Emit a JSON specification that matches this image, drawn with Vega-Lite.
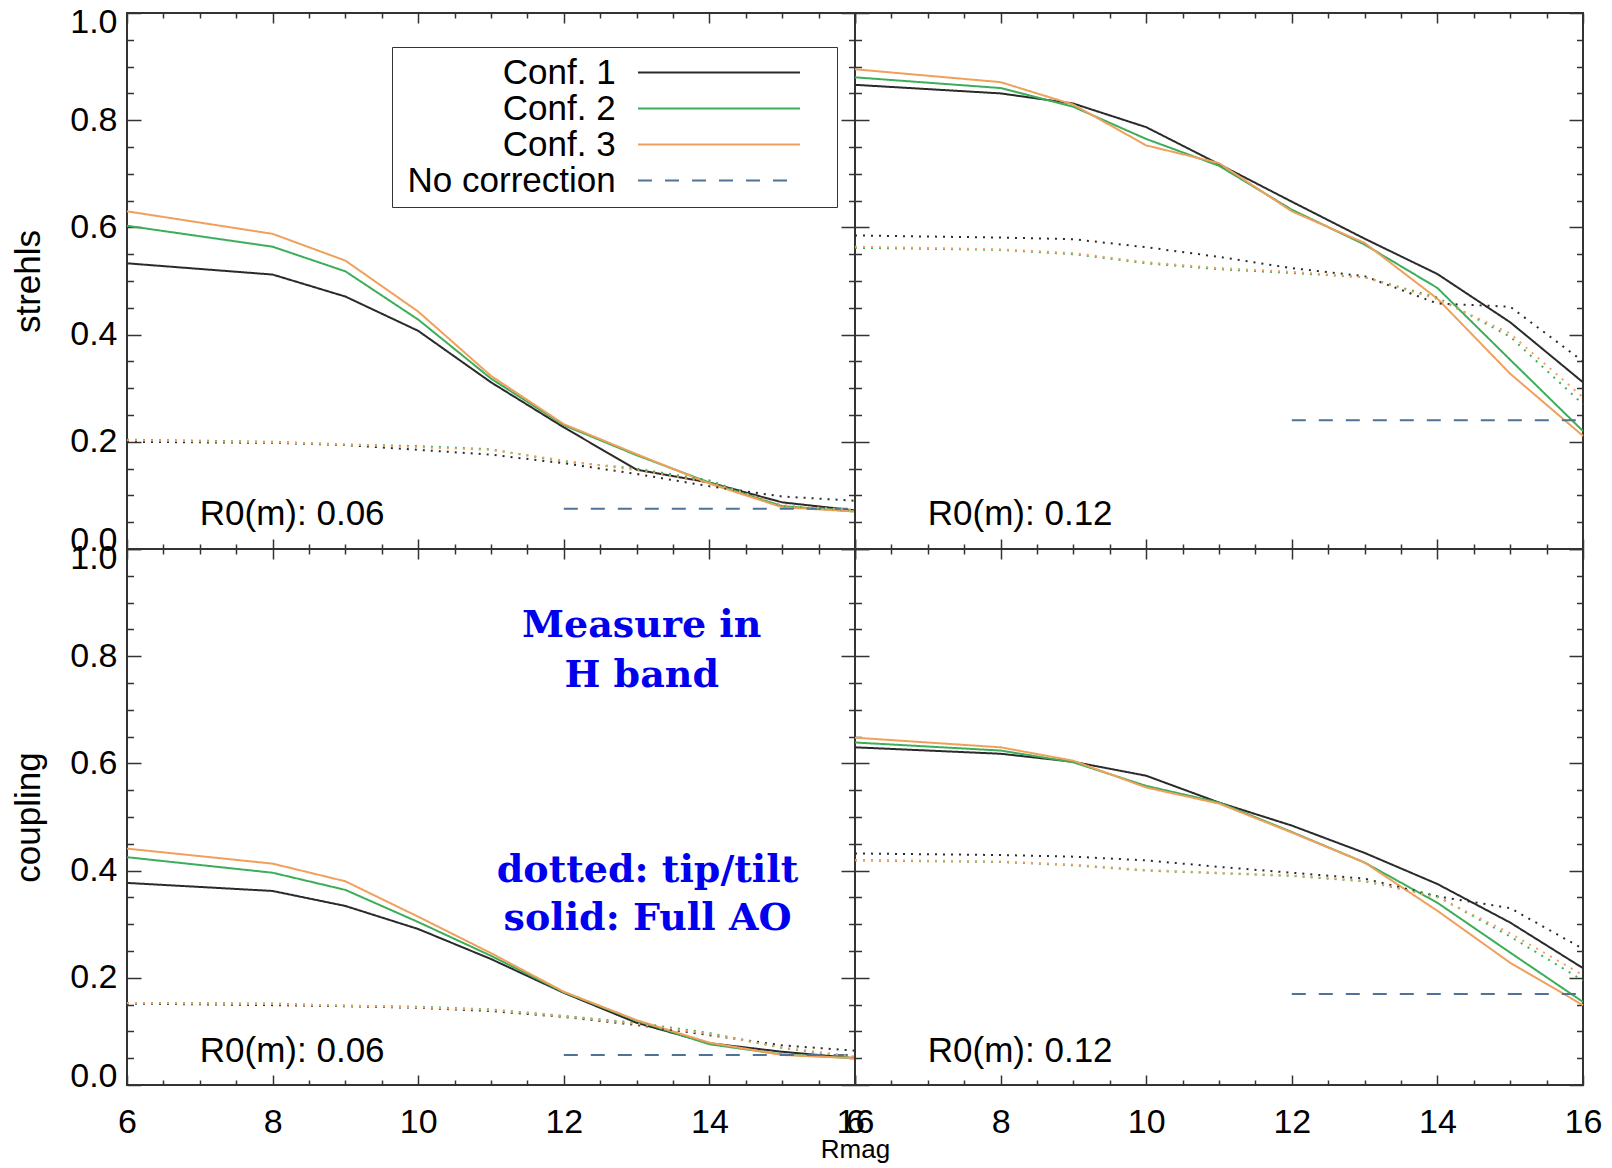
{
"$schema": "https://vega.github.io/schema/vega-lite/v6.json",
"padding": {"left": 10, "top": 4, "right": 0, "bottom": 0},
"background": "#ffffff",
"datasets": {
"strehls_006": [
{"series":"Conf. 1","kind":"Full AO","rmag":6,"val":0.533},{"series":"Conf. 1","kind":"Full AO","rmag":8,"val":0.512},{"series":"Conf. 1","kind":"Full AO","rmag":9,"val":0.471},{"series":"Conf. 1","kind":"Full AO","rmag":10,"val":0.407},{"series":"Conf. 1","kind":"Full AO","rmag":11,"val":0.311},{"series":"Conf. 1","kind":"Full AO","rmag":12,"val":0.227},{"series":"Conf. 1","kind":"Full AO","rmag":13,"val":0.148},{"series":"Conf. 1","kind":"Full AO","rmag":14,"val":0.124},{"series":"Conf. 1","kind":"Full AO","rmag":15,"val":0.087},{"series":"Conf. 1","kind":"Full AO","rmag":16,"val":0.072},
{"series":"Conf. 2","kind":"Full AO","rmag":6,"val":0.603},{"series":"Conf. 2","kind":"Full AO","rmag":8,"val":0.564},{"series":"Conf. 2","kind":"Full AO","rmag":9,"val":0.518},{"series":"Conf. 2","kind":"Full AO","rmag":10,"val":0.428},{"series":"Conf. 2","kind":"Full AO","rmag":11,"val":0.318},{"series":"Conf. 2","kind":"Full AO","rmag":12,"val":0.231},{"series":"Conf. 2","kind":"Full AO","rmag":13,"val":0.175},{"series":"Conf. 2","kind":"Full AO","rmag":14,"val":0.124},{"series":"Conf. 2","kind":"Full AO","rmag":15,"val":0.080},{"series":"Conf. 2","kind":"Full AO","rmag":16,"val":0.070},
{"series":"Conf. 3","kind":"Full AO","rmag":6,"val":0.630},{"series":"Conf. 3","kind":"Full AO","rmag":8,"val":0.588},{"series":"Conf. 3","kind":"Full AO","rmag":9,"val":0.538},{"series":"Conf. 3","kind":"Full AO","rmag":10,"val":0.443},{"series":"Conf. 3","kind":"Full AO","rmag":11,"val":0.323},{"series":"Conf. 3","kind":"Full AO","rmag":12,"val":0.233},{"series":"Conf. 3","kind":"Full AO","rmag":13,"val":0.177},{"series":"Conf. 3","kind":"Full AO","rmag":14,"val":0.122},{"series":"Conf. 3","kind":"Full AO","rmag":15,"val":0.078},{"series":"Conf. 3","kind":"Full AO","rmag":16,"val":0.070},
{"series":"Conf. 1","kind":"tip/tilt","rmag":6,"val":0.200},{"series":"Conf. 1","kind":"tip/tilt","rmag":8,"val":0.198},{"series":"Conf. 1","kind":"tip/tilt","rmag":9,"val":0.194},{"series":"Conf. 1","kind":"tip/tilt","rmag":10,"val":0.185},{"series":"Conf. 1","kind":"tip/tilt","rmag":11,"val":0.176},{"series":"Conf. 1","kind":"tip/tilt","rmag":12,"val":0.160},{"series":"Conf. 1","kind":"tip/tilt","rmag":13,"val":0.140},{"series":"Conf. 1","kind":"tip/tilt","rmag":14,"val":0.117},{"series":"Conf. 1","kind":"tip/tilt","rmag":15,"val":0.098},{"series":"Conf. 1","kind":"tip/tilt","rmag":16,"val":0.090},
{"series":"Conf. 2","kind":"tip/tilt","rmag":6,"val":0.204},{"series":"Conf. 2","kind":"tip/tilt","rmag":8,"val":0.200},{"series":"Conf. 2","kind":"tip/tilt","rmag":9,"val":0.195},{"series":"Conf. 2","kind":"tip/tilt","rmag":10,"val":0.192},{"series":"Conf. 2","kind":"tip/tilt","rmag":11,"val":0.186},{"series":"Conf. 2","kind":"tip/tilt","rmag":12,"val":0.163},{"series":"Conf. 2","kind":"tip/tilt","rmag":13,"val":0.150},{"series":"Conf. 2","kind":"tip/tilt","rmag":14,"val":0.128},{"series":"Conf. 2","kind":"tip/tilt","rmag":15,"val":0.080},{"series":"Conf. 2","kind":"tip/tilt","rmag":16,"val":0.072},
{"series":"Conf. 3","kind":"tip/tilt","rmag":6,"val":0.203},{"series":"Conf. 3","kind":"tip/tilt","rmag":8,"val":0.199},{"series":"Conf. 3","kind":"tip/tilt","rmag":9,"val":0.195},{"series":"Conf. 3","kind":"tip/tilt","rmag":10,"val":0.190},{"series":"Conf. 3","kind":"tip/tilt","rmag":11,"val":0.185},{"series":"Conf. 3","kind":"tip/tilt","rmag":12,"val":0.165},{"series":"Conf. 3","kind":"tip/tilt","rmag":13,"val":0.147},{"series":"Conf. 3","kind":"tip/tilt","rmag":14,"val":0.124},{"series":"Conf. 3","kind":"tip/tilt","rmag":15,"val":0.082},{"series":"Conf. 3","kind":"tip/tilt","rmag":16,"val":0.072},
{"series":"No correction","kind":"none","rmag":12,"val":0.075},{"series":"No correction","kind":"none","rmag":16,"val":0.075}
],
"strehls_012": [
{"series":"Conf. 1","kind":"Full AO","rmag":6,"val":0.866},{"series":"Conf. 1","kind":"Full AO","rmag":8,"val":0.850},{"series":"Conf. 1","kind":"Full AO","rmag":9,"val":0.831},{"series":"Conf. 1","kind":"Full AO","rmag":10,"val":0.787},{"series":"Conf. 1","kind":"Full AO","rmag":11,"val":0.718},{"series":"Conf. 1","kind":"Full AO","rmag":12,"val":0.648},{"series":"Conf. 1","kind":"Full AO","rmag":13,"val":0.579},{"series":"Conf. 1","kind":"Full AO","rmag":14,"val":0.513},{"series":"Conf. 1","kind":"Full AO","rmag":15,"val":0.423},{"series":"Conf. 1","kind":"Full AO","rmag":16,"val":0.311},
{"series":"Conf. 2","kind":"Full AO","rmag":6,"val":0.880},{"series":"Conf. 2","kind":"Full AO","rmag":8,"val":0.860},{"series":"Conf. 2","kind":"Full AO","rmag":9,"val":0.825},{"series":"Conf. 2","kind":"Full AO","rmag":10,"val":0.765},{"series":"Conf. 2","kind":"Full AO","rmag":11,"val":0.715},{"series":"Conf. 2","kind":"Full AO","rmag":12,"val":0.633},{"series":"Conf. 2","kind":"Full AO","rmag":13,"val":0.568},{"series":"Conf. 2","kind":"Full AO","rmag":14,"val":0.487},{"series":"Conf. 2","kind":"Full AO","rmag":15,"val":0.353},{"series":"Conf. 2","kind":"Full AO","rmag":16,"val":0.220},
{"series":"Conf. 3","kind":"Full AO","rmag":6,"val":0.895},{"series":"Conf. 3","kind":"Full AO","rmag":8,"val":0.871},{"series":"Conf. 3","kind":"Full AO","rmag":9,"val":0.829},{"series":"Conf. 3","kind":"Full AO","rmag":10,"val":0.753},{"series":"Conf. 3","kind":"Full AO","rmag":11,"val":0.720},{"series":"Conf. 3","kind":"Full AO","rmag":12,"val":0.630},{"series":"Conf. 3","kind":"Full AO","rmag":13,"val":0.571},{"series":"Conf. 3","kind":"Full AO","rmag":14,"val":0.467},{"series":"Conf. 3","kind":"Full AO","rmag":15,"val":0.327},{"series":"Conf. 3","kind":"Full AO","rmag":16,"val":0.211},
{"series":"Conf. 1","kind":"tip/tilt","rmag":6,"val":0.585},{"series":"Conf. 1","kind":"tip/tilt","rmag":8,"val":0.581},{"series":"Conf. 1","kind":"tip/tilt","rmag":9,"val":0.578},{"series":"Conf. 1","kind":"tip/tilt","rmag":10,"val":0.563},{"series":"Conf. 1","kind":"tip/tilt","rmag":11,"val":0.545},{"series":"Conf. 1","kind":"tip/tilt","rmag":12,"val":0.524},{"series":"Conf. 1","kind":"tip/tilt","rmag":13,"val":0.509},{"series":"Conf. 1","kind":"tip/tilt","rmag":14,"val":0.458},{"series":"Conf. 1","kind":"tip/tilt","rmag":15,"val":0.452},{"series":"Conf. 1","kind":"tip/tilt","rmag":16,"val":0.350},
{"series":"Conf. 2","kind":"tip/tilt","rmag":6,"val":0.562},{"series":"Conf. 2","kind":"tip/tilt","rmag":8,"val":0.558},{"series":"Conf. 2","kind":"tip/tilt","rmag":9,"val":0.550},{"series":"Conf. 2","kind":"tip/tilt","rmag":10,"val":0.533},{"series":"Conf. 2","kind":"tip/tilt","rmag":11,"val":0.522},{"series":"Conf. 2","kind":"tip/tilt","rmag":12,"val":0.515},{"series":"Conf. 2","kind":"tip/tilt","rmag":13,"val":0.507},{"series":"Conf. 2","kind":"tip/tilt","rmag":14,"val":0.469},{"series":"Conf. 2","kind":"tip/tilt","rmag":15,"val":0.396},{"series":"Conf. 2","kind":"tip/tilt","rmag":16,"val":0.270},
{"series":"Conf. 3","kind":"tip/tilt","rmag":6,"val":0.564},{"series":"Conf. 3","kind":"tip/tilt","rmag":8,"val":0.559},{"series":"Conf. 3","kind":"tip/tilt","rmag":9,"val":0.552},{"series":"Conf. 3","kind":"tip/tilt","rmag":10,"val":0.535},{"series":"Conf. 3","kind":"tip/tilt","rmag":11,"val":0.524},{"series":"Conf. 3","kind":"tip/tilt","rmag":12,"val":0.517},{"series":"Conf. 3","kind":"tip/tilt","rmag":13,"val":0.507},{"series":"Conf. 3","kind":"tip/tilt","rmag":14,"val":0.466},{"series":"Conf. 3","kind":"tip/tilt","rmag":15,"val":0.402},{"series":"Conf. 3","kind":"tip/tilt","rmag":16,"val":0.283},
{"series":"No correction","kind":"none","rmag":12,"val":0.240},{"series":"No correction","kind":"none","rmag":16,"val":0.240}
],
"coupling_006": [
{"series":"Conf. 1","kind":"Full AO","rmag":6,"val":0.377},{"series":"Conf. 1","kind":"Full AO","rmag":8,"val":0.362},{"series":"Conf. 1","kind":"Full AO","rmag":9,"val":0.334},{"series":"Conf. 1","kind":"Full AO","rmag":10,"val":0.291},{"series":"Conf. 1","kind":"Full AO","rmag":11,"val":0.235},{"series":"Conf. 1","kind":"Full AO","rmag":12,"val":0.172},{"series":"Conf. 1","kind":"Full AO","rmag":13,"val":0.116},{"series":"Conf. 1","kind":"Full AO","rmag":14,"val":0.078},{"series":"Conf. 1","kind":"Full AO","rmag":15,"val":0.062},{"series":"Conf. 1","kind":"Full AO","rmag":16,"val":0.050},
{"series":"Conf. 2","kind":"Full AO","rmag":6,"val":0.425},{"series":"Conf. 2","kind":"Full AO","rmag":8,"val":0.396},{"series":"Conf. 2","kind":"Full AO","rmag":9,"val":0.364},{"series":"Conf. 2","kind":"Full AO","rmag":10,"val":0.304},{"series":"Conf. 2","kind":"Full AO","rmag":11,"val":0.241},{"series":"Conf. 2","kind":"Full AO","rmag":12,"val":0.173},{"series":"Conf. 2","kind":"Full AO","rmag":13,"val":0.120},{"series":"Conf. 2","kind":"Full AO","rmag":14,"val":0.076},{"series":"Conf. 2","kind":"Full AO","rmag":15,"val":0.057},{"series":"Conf. 2","kind":"Full AO","rmag":16,"val":0.050},
{"series":"Conf. 3","kind":"Full AO","rmag":6,"val":0.441},{"series":"Conf. 3","kind":"Full AO","rmag":8,"val":0.413},{"series":"Conf. 3","kind":"Full AO","rmag":9,"val":0.380},{"series":"Conf. 3","kind":"Full AO","rmag":10,"val":0.314},{"series":"Conf. 3","kind":"Full AO","rmag":11,"val":0.246},{"series":"Conf. 3","kind":"Full AO","rmag":12,"val":0.174},{"series":"Conf. 3","kind":"Full AO","rmag":13,"val":0.121},{"series":"Conf. 3","kind":"Full AO","rmag":14,"val":0.079},{"series":"Conf. 3","kind":"Full AO","rmag":15,"val":0.056},{"series":"Conf. 3","kind":"Full AO","rmag":16,"val":0.050},
{"series":"Conf. 1","kind":"tip/tilt","rmag":6,"val":0.152},{"series":"Conf. 1","kind":"tip/tilt","rmag":8,"val":0.149},{"series":"Conf. 1","kind":"tip/tilt","rmag":9,"val":0.147},{"series":"Conf. 1","kind":"tip/tilt","rmag":10,"val":0.144},{"series":"Conf. 1","kind":"tip/tilt","rmag":11,"val":0.138},{"series":"Conf. 1","kind":"tip/tilt","rmag":12,"val":0.127},{"series":"Conf. 1","kind":"tip/tilt","rmag":13,"val":0.112},{"series":"Conf. 1","kind":"tip/tilt","rmag":14,"val":0.093},{"series":"Conf. 1","kind":"tip/tilt","rmag":15,"val":0.074},{"series":"Conf. 1","kind":"tip/tilt","rmag":16,"val":0.064},
{"series":"Conf. 2","kind":"tip/tilt","rmag":6,"val":0.153},{"series":"Conf. 2","kind":"tip/tilt","rmag":8,"val":0.152},{"series":"Conf. 2","kind":"tip/tilt","rmag":9,"val":0.148},{"series":"Conf. 2","kind":"tip/tilt","rmag":10,"val":0.146},{"series":"Conf. 2","kind":"tip/tilt","rmag":11,"val":0.141},{"series":"Conf. 2","kind":"tip/tilt","rmag":12,"val":0.129},{"series":"Conf. 2","kind":"tip/tilt","rmag":13,"val":0.116},{"series":"Conf. 2","kind":"tip/tilt","rmag":14,"val":0.097},{"series":"Conf. 2","kind":"tip/tilt","rmag":15,"val":0.069},{"series":"Conf. 2","kind":"tip/tilt","rmag":16,"val":0.052},
{"series":"Conf. 3","kind":"tip/tilt","rmag":6,"val":0.153},{"series":"Conf. 3","kind":"tip/tilt","rmag":8,"val":0.151},{"series":"Conf. 3","kind":"tip/tilt","rmag":9,"val":0.148},{"series":"Conf. 3","kind":"tip/tilt","rmag":10,"val":0.145},{"series":"Conf. 3","kind":"tip/tilt","rmag":11,"val":0.140},{"series":"Conf. 3","kind":"tip/tilt","rmag":12,"val":0.128},{"series":"Conf. 3","kind":"tip/tilt","rmag":13,"val":0.114},{"series":"Conf. 3","kind":"tip/tilt","rmag":14,"val":0.095},{"series":"Conf. 3","kind":"tip/tilt","rmag":15,"val":0.070},{"series":"Conf. 3","kind":"tip/tilt","rmag":16,"val":0.053},
{"series":"No correction","kind":"none","rmag":12,"val":0.056},{"series":"No correction","kind":"none","rmag":16,"val":0.056}
],
"coupling_012": [
{"series":"Conf. 1","kind":"Full AO","rmag":6,"val":0.630},{"series":"Conf. 1","kind":"Full AO","rmag":8,"val":0.618},{"series":"Conf. 1","kind":"Full AO","rmag":9,"val":0.603},{"series":"Conf. 1","kind":"Full AO","rmag":10,"val":0.577},{"series":"Conf. 1","kind":"Full AO","rmag":11,"val":0.527},{"series":"Conf. 1","kind":"Full AO","rmag":12,"val":0.484},{"series":"Conf. 1","kind":"Full AO","rmag":13,"val":0.433},{"series":"Conf. 1","kind":"Full AO","rmag":14,"val":0.375},{"series":"Conf. 1","kind":"Full AO","rmag":15,"val":0.303},{"series":"Conf. 1","kind":"Full AO","rmag":16,"val":0.218},
{"series":"Conf. 2","kind":"Full AO","rmag":6,"val":0.639},{"series":"Conf. 2","kind":"Full AO","rmag":8,"val":0.624},{"series":"Conf. 2","kind":"Full AO","rmag":9,"val":0.602},{"series":"Conf. 2","kind":"Full AO","rmag":10,"val":0.558},{"series":"Conf. 2","kind":"Full AO","rmag":11,"val":0.527},{"series":"Conf. 2","kind":"Full AO","rmag":12,"val":0.472},{"series":"Conf. 2","kind":"Full AO","rmag":13,"val":0.415},{"series":"Conf. 2","kind":"Full AO","rmag":14,"val":0.340},{"series":"Conf. 2","kind":"Full AO","rmag":15,"val":0.247},{"series":"Conf. 2","kind":"Full AO","rmag":16,"val":0.155},
{"series":"Conf. 3","kind":"Full AO","rmag":6,"val":0.648},{"series":"Conf. 3","kind":"Full AO","rmag":8,"val":0.630},{"series":"Conf. 3","kind":"Full AO","rmag":9,"val":0.605},{"series":"Conf. 3","kind":"Full AO","rmag":10,"val":0.555},{"series":"Conf. 3","kind":"Full AO","rmag":11,"val":0.525},{"series":"Conf. 3","kind":"Full AO","rmag":12,"val":0.471},{"series":"Conf. 3","kind":"Full AO","rmag":13,"val":0.415},{"series":"Conf. 3","kind":"Full AO","rmag":14,"val":0.325},{"series":"Conf. 3","kind":"Full AO","rmag":15,"val":0.228},{"series":"Conf. 3","kind":"Full AO","rmag":16,"val":0.149},
{"series":"Conf. 1","kind":"tip/tilt","rmag":6,"val":0.432},{"series":"Conf. 1","kind":"tip/tilt","rmag":8,"val":0.429},{"series":"Conf. 1","kind":"tip/tilt","rmag":9,"val":0.426},{"series":"Conf. 1","kind":"tip/tilt","rmag":10,"val":0.419},{"series":"Conf. 1","kind":"tip/tilt","rmag":11,"val":0.407},{"series":"Conf. 1","kind":"tip/tilt","rmag":12,"val":0.396},{"series":"Conf. 1","kind":"tip/tilt","rmag":13,"val":0.385},{"series":"Conf. 1","kind":"tip/tilt","rmag":14,"val":0.352},{"series":"Conf. 1","kind":"tip/tilt","rmag":15,"val":0.330},{"series":"Conf. 1","kind":"tip/tilt","rmag":16,"val":0.254},
{"series":"Conf. 2","kind":"tip/tilt","rmag":6,"val":0.419},{"series":"Conf. 2","kind":"tip/tilt","rmag":8,"val":0.416},{"series":"Conf. 2","kind":"tip/tilt","rmag":9,"val":0.410},{"series":"Conf. 2","kind":"tip/tilt","rmag":10,"val":0.400},{"series":"Conf. 2","kind":"tip/tilt","rmag":11,"val":0.395},{"series":"Conf. 2","kind":"tip/tilt","rmag":12,"val":0.390},{"series":"Conf. 2","kind":"tip/tilt","rmag":13,"val":0.380},{"series":"Conf. 2","kind":"tip/tilt","rmag":14,"val":0.352},{"series":"Conf. 2","kind":"tip/tilt","rmag":15,"val":0.277},{"series":"Conf. 2","kind":"tip/tilt","rmag":16,"val":0.195},
{"series":"Conf. 3","kind":"tip/tilt","rmag":6,"val":0.420},{"series":"Conf. 3","kind":"tip/tilt","rmag":8,"val":0.417},{"series":"Conf. 3","kind":"tip/tilt","rmag":9,"val":0.411},{"series":"Conf. 3","kind":"tip/tilt","rmag":10,"val":0.401},{"series":"Conf. 3","kind":"tip/tilt","rmag":11,"val":0.396},{"series":"Conf. 3","kind":"tip/tilt","rmag":12,"val":0.391},{"series":"Conf. 3","kind":"tip/tilt","rmag":13,"val":0.381},{"series":"Conf. 3","kind":"tip/tilt","rmag":14,"val":0.350},{"series":"Conf. 3","kind":"tip/tilt","rmag":15,"val":0.283},{"series":"Conf. 3","kind":"tip/tilt","rmag":16,"val":0.205},
{"series":"No correction","kind":"none","rmag":12,"val":0.170},{"series":"No correction","kind":"none","rmag":16,"val":0.170}
]
},
"columns": 2,
"spacing": 0,
"bounds": "flush",
"resolve": {"legend": {"color": "independent", "strokeDash": "independent"}},
"concat": [
{
"width": 728, "height": 536,
"data": {"name": "strehls_006"},
"resolve": {"axis": {"x": "independent", "y": "independent"}},
"layer": [
{"transform": [{"filter": "datum.kind !== 'tip/tilt'"}],
 "mark": {"type": "line", "strokeWidth": 2},
 "encoding": {
  "x": {"field": "rmag", "type": "quantitative", "scale": {"domain": [6,16], "nice": false, "zero": false}, "axis": null},
  "y": {"field": "val", "type": "quantitative", "scale": {"domain": [0,1], "nice": false, "zero": false},
        "axis": {"orient": "left", "values": [0,0.2,0.4,0.6,0.8,1], "format": ".1f", "ticks": false, "domain": false, "labelFontSize": 34, "labelPadding": 10, "labelFlush": true, "labelFlushOffset": 8, "labelOverlap": false, "labelBound": false, "title": "strehls", "titleFontSize": 35, "titlePadding": 23}},
  "color": {"field": "series", "type": "nominal", "scale": {"domain": ["Conf. 1","Conf. 2","Conf. 3","No correction"], "range": ["#2a2a2a","#3cae5a","#f0a05c","#4f7396"]},
            "legend": {"orient": "none", "legendX": 265, "legendY": 34, "direction": "vertical", "title": null, "symbolType": "M-16.2,0H16.2M21.1,0", "symbolSize": 100, "symbolStrokeWidth": 2, "symbolOffset": 301.5, "labelFontSize": 35, "labelAlign": "right", "labelBaseline": "middle", "labelOffset": -120.8, "rowPadding": -0.6, "padding": 8, "strokeColor": "#333333", "fillColor": "#ffffff", "labelLimit": 0}},
  "strokeDash": {"field": "series", "type": "nominal", "scale": {"domain": ["Conf. 1","Conf. 2","Conf. 3","No correction"], "range": [[1,0],[1,0],[1,0],[14,13]]},
            "legend": {"orient": "none", "legendX": 265, "legendY": 34, "direction": "vertical", "title": null, "symbolType": "M-16.2,0H16.2M21.1,0", "symbolSize": 100, "symbolStrokeWidth": 2, "symbolOffset": 301.5, "labelFontSize": 35, "labelAlign": "right", "labelBaseline": "middle", "labelOffset": -120.8, "rowPadding": -0.6, "padding": 8, "strokeColor": "#333333", "fillColor": "#ffffff", "labelLimit": 0}}
 }},
{"transform": [{"filter": "datum.kind === 'tip/tilt'"}],
 "mark": {"type": "line", "strokeWidth": 2, "strokeDash": [2,6]},
 "encoding": {
  "x": {"field": "rmag", "type": "quantitative", "scale": {"domain": [6,16], "nice": false, "zero": false},
        "axis": {"orient": "bottom", "values": [6,6.5,7,7.5,8,8.5,9,9.5,10,10.5,11,11.5,12,12.5,13,13.5,14,14.5,15,15.5,16], "labels": false, "domain": false, "ticks": true, "tickSize": -10, "tickDash": {"condition": {"test": "datum.value % 2 === 0", "value": [100,1]}, "value": [5,40]}, "title": null}},
  "y": {"field": "val", "type": "quantitative", "scale": {"domain": [0,1], "nice": false, "zero": false},
        "axis": {"orient": "left", "values": [0,0.05,0.1,0.15,0.2,0.25,0.3,0.35,0.4,0.45,0.5,0.55,0.6,0.65,0.7,0.75,0.8,0.85,0.9,0.95,1], "labels": false, "domain": false, "ticks": true, "tickSize": -14, "tickDash": {"condition": {"test": "abs(datum.value*5 - round(datum.value*5)) < 0.001", "value": [100,1]}, "value": [6.5,40]}, "title": null}},
  "color": {"field": "series", "type": "nominal", "scale": {"domain": ["Conf. 1","Conf. 2","Conf. 3","No correction"], "range": ["#2a2a2a","#3cae5a","#f0a05c","#4f7396"]}, "legend": null}
 }},
{"data": {"values": [{"label": "R0(m): 0.06"}]},
 "mark": {"type": "text", "fontSize": 35, "align": "left", "baseline": "alphabetic", "color": "#000000"},
 "encoding": {
  "x": {"datum": 7, "type": "quantitative", "scale": {"domain": [6,16], "nice": false, "zero": false},
        "axis": {"orient": "top", "values": [6,6.5,7,7.5,8,8.5,9,9.5,10,10.5,11,11.5,12,12.5,13,13.5,14,14.5,15,15.5,16], "labels": false, "domain": false, "ticks": true, "tickSize": -10, "tickDash": {"condition": {"test": "datum.value % 2 === 0", "value": [100,1]}, "value": [5,40]}, "title": null}},
  "y": {"datum": 0.045, "type": "quantitative", "scale": {"domain": [0,1], "nice": false, "zero": false},
        "axis": {"orient": "right", "values": [0,0.05,0.1,0.15,0.2,0.25,0.3,0.35,0.4,0.45,0.5,0.55,0.6,0.65,0.7,0.75,0.8,0.85,0.9,0.95,1], "labels": false, "domain": false, "ticks": true, "tickSize": -14, "tickDash": {"condition": {"test": "abs(datum.value*5 - round(datum.value*5)) < 0.001", "value": [100,1]}, "value": [6.5,40]}, "title": null}},
  "text": {"field": "label"}
 }}
]
},
{
"width": 728, "height": 536,
"data": {"name": "strehls_012"},
"resolve": {"axis": {"x": "independent", "y": "independent"}},
"layer": [
{"transform": [{"filter": "datum.kind !== 'tip/tilt'"}],
 "mark": {"type": "line", "strokeWidth": 2},
 "encoding": {
  "x": {"field": "rmag", "type": "quantitative", "scale": {"domain": [6,16], "nice": false, "zero": false}, "axis": null},
  "y": {"field": "val", "type": "quantitative", "scale": {"domain": [0,1], "nice": false, "zero": false}, "axis": null},
  "color": {"field": "series", "type": "nominal", "scale": {"domain": ["Conf. 1","Conf. 2","Conf. 3","No correction"], "range": ["#2a2a2a","#3cae5a","#f0a05c","#4f7396"]}, "legend": null},
  "strokeDash": {"field": "series", "type": "nominal", "scale": {"domain": ["Conf. 1","Conf. 2","Conf. 3","No correction"], "range": [[1,0],[1,0],[1,0],[14,13]]}, "legend": null}
 }},
{"transform": [{"filter": "datum.kind === 'tip/tilt'"}],
 "mark": {"type": "line", "strokeWidth": 2, "strokeDash": [2,6]},
 "encoding": {
  "x": {"field": "rmag", "type": "quantitative", "scale": {"domain": [6,16], "nice": false, "zero": false},
        "axis": {"orient": "bottom", "values": [6,6.5,7,7.5,8,8.5,9,9.5,10,10.5,11,11.5,12,12.5,13,13.5,14,14.5,15,15.5,16], "labels": false, "domain": false, "ticks": true, "tickSize": -10, "tickDash": {"condition": {"test": "datum.value % 2 === 0", "value": [100,1]}, "value": [5,40]}, "title": null}},
  "y": {"field": "val", "type": "quantitative", "scale": {"domain": [0,1], "nice": false, "zero": false},
        "axis": {"orient": "left", "values": [0,0.05,0.1,0.15,0.2,0.25,0.3,0.35,0.4,0.45,0.5,0.55,0.6,0.65,0.7,0.75,0.8,0.85,0.9,0.95,1], "labels": false, "domain": false, "ticks": true, "tickSize": -14, "tickDash": {"condition": {"test": "abs(datum.value*5 - round(datum.value*5)) < 0.001", "value": [100,1]}, "value": [6.5,40]}, "title": null}},
  "color": {"field": "series", "type": "nominal", "scale": {"domain": ["Conf. 1","Conf. 2","Conf. 3","No correction"], "range": ["#2a2a2a","#3cae5a","#f0a05c","#4f7396"]}, "legend": null}
 }},
{"data": {"values": [{"label": "R0(m): 0.12"}]},
 "mark": {"type": "text", "fontSize": 35, "align": "left", "baseline": "alphabetic", "color": "#000000"},
 "encoding": {
  "x": {"datum": 7, "type": "quantitative", "scale": {"domain": [6,16], "nice": false, "zero": false},
        "axis": {"orient": "top", "values": [6,6.5,7,7.5,8,8.5,9,9.5,10,10.5,11,11.5,12,12.5,13,13.5,14,14.5,15,15.5,16], "labels": false, "domain": false, "ticks": true, "tickSize": -10, "tickDash": {"condition": {"test": "datum.value % 2 === 0", "value": [100,1]}, "value": [5,40]}, "title": null}},
  "y": {"datum": 0.045, "type": "quantitative", "scale": {"domain": [0,1], "nice": false, "zero": false},
        "axis": {"orient": "right", "values": [0,0.05,0.1,0.15,0.2,0.25,0.3,0.35,0.4,0.45,0.5,0.55,0.6,0.65,0.7,0.75,0.8,0.85,0.9,0.95,1], "labels": false, "domain": false, "ticks": true, "tickSize": -14, "tickDash": {"condition": {"test": "abs(datum.value*5 - round(datum.value*5)) < 0.001", "value": [100,1]}, "value": [6.5,40]}, "title": null}},
  "text": {"field": "label"}
 }}
]
},
{
"width": 728, "height": 536,
"data": {"name": "coupling_006"},
"resolve": {"axis": {"x": "independent", "y": "independent"}},
"layer": [
{"transform": [{"filter": "datum.kind !== 'tip/tilt'"}],
 "mark": {"type": "line", "strokeWidth": 2},
 "encoding": {
  "x": {"field": "rmag", "type": "quantitative", "scale": {"domain": [6,16], "nice": false, "zero": false},
        "axis": {"orient": "bottom", "values": [6,8,10,12,14,16], "format": "d", "ticks": false, "domain": false, "labelFontSize": 34, "labelPadding": 20, "labelFlush": false, "labelOverlap": false, "labelBound": false, "title": "Rmag", "titleFontSize": 26, "titleX": 728, "titleY": 72, "titleAlign": "center", "titleBaseline": "alphabetic"}},
  "y": {"field": "val", "type": "quantitative", "scale": {"domain": [0,1], "nice": false, "zero": false},
        "axis": {"orient": "left", "values": [0,0.2,0.4,0.6,0.8,1], "format": ".1f", "ticks": false, "domain": false, "labelFontSize": 34, "labelPadding": 10, "labelFlush": true, "labelFlushOffset": 8, "labelOverlap": false, "labelBound": false, "title": "coupling", "titleFontSize": 35, "titlePadding": 23}},
  "color": {"field": "series", "type": "nominal", "scale": {"domain": ["Conf. 1","Conf. 2","Conf. 3","No correction"], "range": ["#2a2a2a","#3cae5a","#f0a05c","#4f7396"]}, "legend": null},
  "strokeDash": {"field": "series", "type": "nominal", "scale": {"domain": ["Conf. 1","Conf. 2","Conf. 3","No correction"], "range": [[1,0],[1,0],[1,0],[14,13]]}, "legend": null}
 }},
{"transform": [{"filter": "datum.kind === 'tip/tilt'"}],
 "mark": {"type": "line", "strokeWidth": 2, "strokeDash": [2,6]},
 "encoding": {
  "x": {"field": "rmag", "type": "quantitative", "scale": {"domain": [6,16], "nice": false, "zero": false},
        "axis": {"orient": "bottom", "values": [6,6.5,7,7.5,8,8.5,9,9.5,10,10.5,11,11.5,12,12.5,13,13.5,14,14.5,15,15.5,16], "labels": false, "domain": false, "ticks": true, "tickSize": -10, "tickDash": {"condition": {"test": "datum.value % 2 === 0", "value": [100,1]}, "value": [5,40]}, "title": null}},
  "y": {"field": "val", "type": "quantitative", "scale": {"domain": [0,1], "nice": false, "zero": false},
        "axis": {"orient": "left", "values": [0,0.05,0.1,0.15,0.2,0.25,0.3,0.35,0.4,0.45,0.5,0.55,0.6,0.65,0.7,0.75,0.8,0.85,0.9,0.95,1], "labels": false, "domain": false, "ticks": true, "tickSize": -14, "tickDash": {"condition": {"test": "abs(datum.value*5 - round(datum.value*5)) < 0.001", "value": [100,1]}, "value": [6.5,40]}, "title": null}},
  "color": {"field": "series", "type": "nominal", "scale": {"domain": ["Conf. 1","Conf. 2","Conf. 3","No correction"], "range": ["#2a2a2a","#3cae5a","#f0a05c","#4f7396"]}, "legend": null}
 }},
{"data": {"values": [{"label": "R0(m): 0.06"}]},
 "mark": {"type": "text", "fontSize": 35, "align": "left", "baseline": "alphabetic", "color": "#000000"},
 "encoding": {
  "x": {"datum": 7, "type": "quantitative", "scale": {"domain": [6,16], "nice": false, "zero": false},
        "axis": {"orient": "top", "values": [6,6.5,7,7.5,8,8.5,9,9.5,10,10.5,11,11.5,12,12.5,13,13.5,14,14.5,15,15.5,16], "labels": false, "domain": false, "ticks": true, "tickSize": -10, "tickDash": {"condition": {"test": "datum.value % 2 === 0", "value": [100,1]}, "value": [5,40]}, "title": null}},
  "y": {"datum": 0.043, "type": "quantitative", "scale": {"domain": [0,1], "nice": false, "zero": false},
        "axis": {"orient": "right", "values": [0,0.05,0.1,0.15,0.2,0.25,0.3,0.35,0.4,0.45,0.5,0.55,0.6,0.65,0.7,0.75,0.8,0.85,0.9,0.95,1], "labels": false, "domain": false, "ticks": true, "tickSize": -14, "tickDash": {"condition": {"test": "abs(datum.value*5 - round(datum.value*5)) < 0.001", "value": [100,1]}, "value": [6.5,40]}, "title": null}},
  "text": {"field": "label"}
 }},
{"data": {"values": [{"note": ["Measure in", "H band"]}]},
 "mark": {"type": "text", "font": "DejaVu Serif", "fontWeight": "bold", "fontSize": 38, "align": "center", "baseline": "alphabetic", "lineHeight": 50, "color": "#0000ee"},
 "encoding": {
  "x": {"datum": 13.07, "type": "quantitative", "axis": null},
  "y": {"datum": 0.835, "type": "quantitative", "axis": null},
  "text": {"field": "note"}
 }},
{"data": {"values": [{"note": ["dotted: tip/tilt", "solid: Full AO"]}]},
 "mark": {"type": "text", "font": "DejaVu Serif", "fontWeight": "bold", "fontSize": 38, "align": "center", "baseline": "alphabetic", "lineHeight": 48, "color": "#0000ee"},
 "encoding": {
  "x": {"datum": 13.15, "type": "quantitative", "axis": null},
  "y": {"datum": 0.379, "type": "quantitative", "axis": null},
  "text": {"field": "note"}
 }}
]
},
{
"width": 728, "height": 536,
"data": {"name": "coupling_012"},
"resolve": {"axis": {"x": "independent", "y": "independent"}},
"layer": [
{"transform": [{"filter": "datum.kind !== 'tip/tilt'"}],
 "mark": {"type": "line", "strokeWidth": 2},
 "encoding": {
  "x": {"field": "rmag", "type": "quantitative", "scale": {"domain": [6,16], "nice": false, "zero": false},
        "axis": {"orient": "bottom", "values": [6,8,10,12,14,16], "format": "d", "ticks": false, "domain": false, "labelFontSize": 34, "labelPadding": 20, "labelFlush": false, "labelOverlap": false, "labelBound": false, "title": null}},
  "y": {"field": "val", "type": "quantitative", "scale": {"domain": [0,1], "nice": false, "zero": false}, "axis": null},
  "color": {"field": "series", "type": "nominal", "scale": {"domain": ["Conf. 1","Conf. 2","Conf. 3","No correction"], "range": ["#2a2a2a","#3cae5a","#f0a05c","#4f7396"]}, "legend": null},
  "strokeDash": {"field": "series", "type": "nominal", "scale": {"domain": ["Conf. 1","Conf. 2","Conf. 3","No correction"], "range": [[1,0],[1,0],[1,0],[14,13]]}, "legend": null}
 }},
{"transform": [{"filter": "datum.kind === 'tip/tilt'"}],
 "mark": {"type": "line", "strokeWidth": 2, "strokeDash": [2,6]},
 "encoding": {
  "x": {"field": "rmag", "type": "quantitative", "scale": {"domain": [6,16], "nice": false, "zero": false},
        "axis": {"orient": "bottom", "values": [6,6.5,7,7.5,8,8.5,9,9.5,10,10.5,11,11.5,12,12.5,13,13.5,14,14.5,15,15.5,16], "labels": false, "domain": false, "ticks": true, "tickSize": -10, "tickDash": {"condition": {"test": "datum.value % 2 === 0", "value": [100,1]}, "value": [5,40]}, "title": null}},
  "y": {"field": "val", "type": "quantitative", "scale": {"domain": [0,1], "nice": false, "zero": false},
        "axis": {"orient": "left", "values": [0,0.05,0.1,0.15,0.2,0.25,0.3,0.35,0.4,0.45,0.5,0.55,0.6,0.65,0.7,0.75,0.8,0.85,0.9,0.95,1], "labels": false, "domain": false, "ticks": true, "tickSize": -14, "tickDash": {"condition": {"test": "abs(datum.value*5 - round(datum.value*5)) < 0.001", "value": [100,1]}, "value": [6.5,40]}, "title": null}},
  "color": {"field": "series", "type": "nominal", "scale": {"domain": ["Conf. 1","Conf. 2","Conf. 3","No correction"], "range": ["#2a2a2a","#3cae5a","#f0a05c","#4f7396"]}, "legend": null}
 }},
{"data": {"values": [{"label": "R0(m): 0.12"}]},
 "mark": {"type": "text", "fontSize": 35, "align": "left", "baseline": "alphabetic", "color": "#000000"},
 "encoding": {
  "x": {"datum": 7, "type": "quantitative", "scale": {"domain": [6,16], "nice": false, "zero": false},
        "axis": {"orient": "top", "values": [6,6.5,7,7.5,8,8.5,9,9.5,10,10.5,11,11.5,12,12.5,13,13.5,14,14.5,15,15.5,16], "labels": false, "domain": false, "ticks": true, "tickSize": -10, "tickDash": {"condition": {"test": "datum.value % 2 === 0", "value": [100,1]}, "value": [5,40]}, "title": null}},
  "y": {"datum": 0.043, "type": "quantitative", "scale": {"domain": [0,1], "nice": false, "zero": false},
        "axis": {"orient": "right", "values": [0,0.05,0.1,0.15,0.2,0.25,0.3,0.35,0.4,0.45,0.5,0.55,0.6,0.65,0.7,0.75,0.8,0.85,0.9,0.95,1], "labels": false, "domain": false, "ticks": true, "tickSize": -14, "tickDash": {"condition": {"test": "abs(datum.value*5 - round(datum.value*5)) < 0.001", "value": [100,1]}, "value": [6.5,40]}, "title": null}},
  "text": {"field": "label"}
 }}
]
}
],
"config": {
 "font": "Liberation Sans",
 "view": {"stroke": "#333333", "strokeWidth": 2},
 "axis": {"labelFont": "Liberation Sans", "titleFont": "Liberation Sans", "labelColor": "#000000", "titleColor": "#000000", "titleFontWeight": "normal", "grid": false, "tickColor": "#333333", "tickWidth": 1.5},
 "legend": {"labelFont": "Liberation Sans", "labelColor": "#000000"},
 "text": {"font": "Liberation Sans"}
}
}
